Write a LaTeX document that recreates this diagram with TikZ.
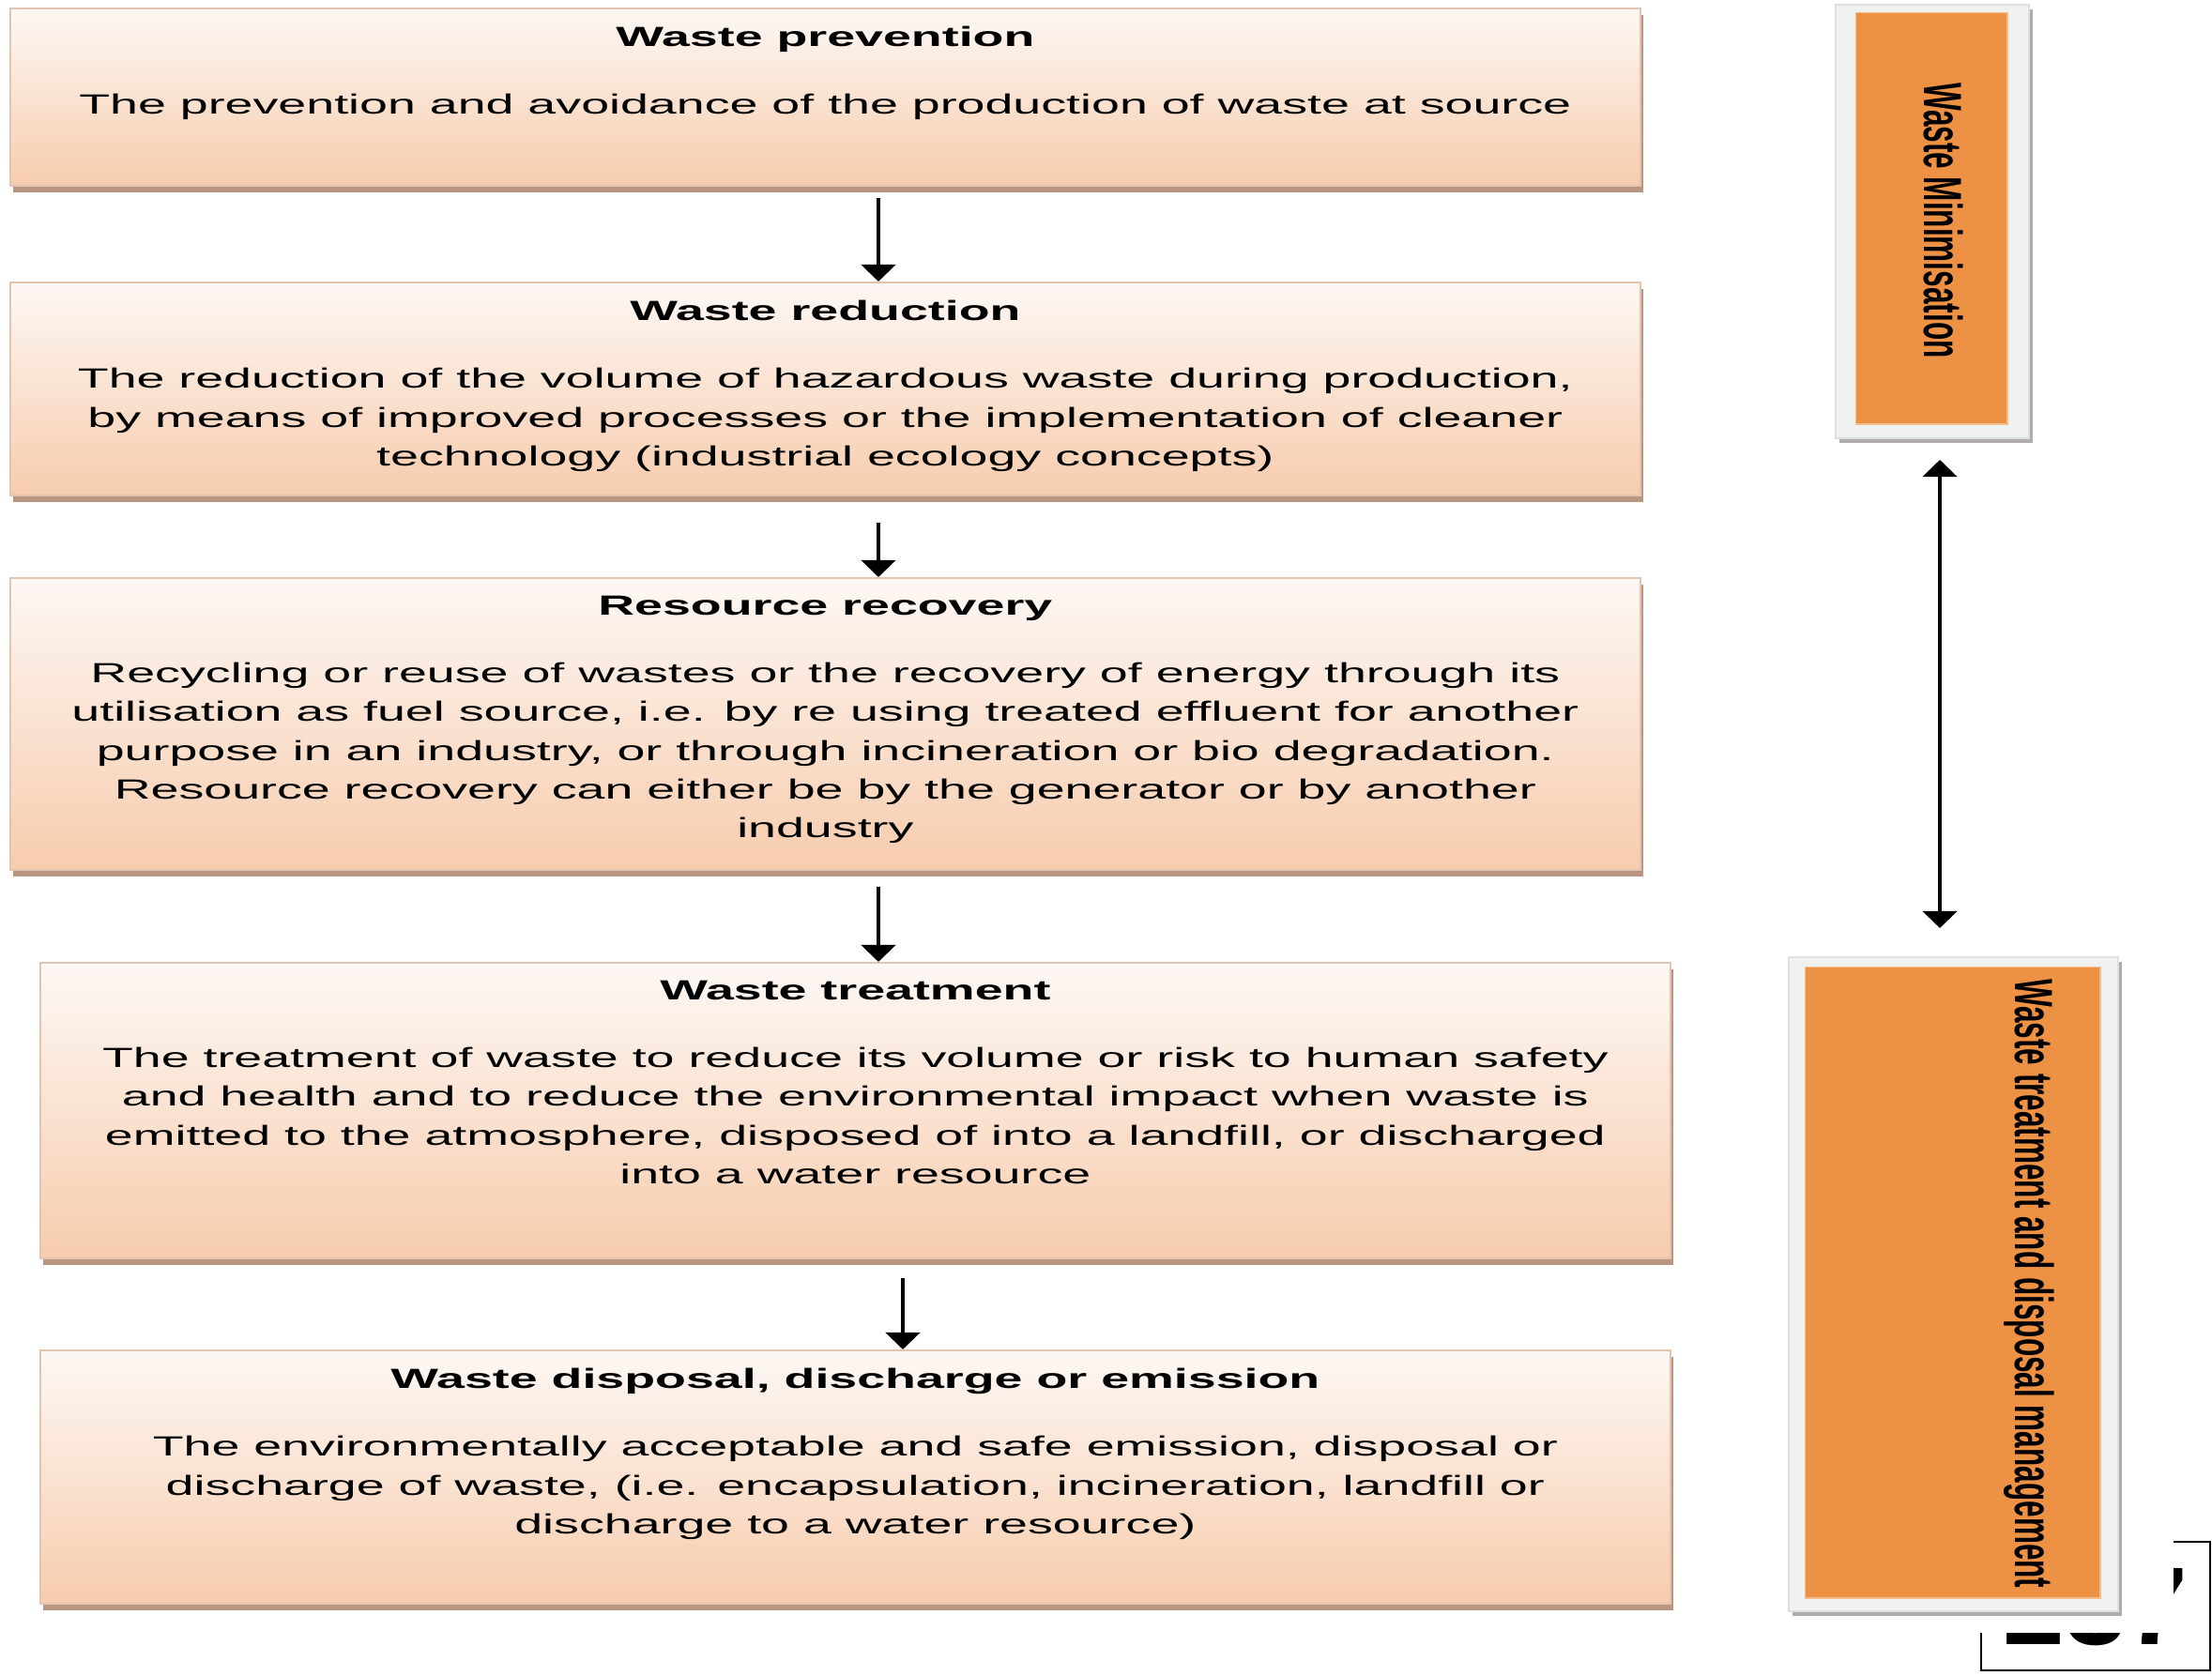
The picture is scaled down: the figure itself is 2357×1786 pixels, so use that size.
\documentclass[tikz,border=0pt]{standalone}
\usepackage{fontspec}
\setmainfont{Liberation Sans}
\newfontfamily\widefont[FakeStretch=1.82]{Liberation Sans}
\newfontfamily\tallfont[FakeStretch=0.55]{Liberation Sans}
\usetikzlibrary{arrows.meta,shadows}

\definecolor{boxtop}{RGB}{253,248,245}
\definecolor{boxbot}{RGB}{247,204,173}
\definecolor{boxline}{RGB}{226,196,176}
\definecolor{boxshade}{RGB}{186,150,128}
\definecolor{panelorange}{RGB}{237,146,69}
\definecolor{panelgrey}{RGB}{240,242,242}
\definecolor{panelline}{RGB}{222,224,224}
\definecolor{panelshade}{RGB}{175,172,170}

\tikzset{
  stagebox/.style={draw=boxline, line width=0.5pt, top color=boxtop, bottom color=boxbot,
    drop shadow={shadow xshift=0.03cm, shadow yshift=-0.07cm, fill=boxshade, opacity=1},
    anchor=north west, inner sep=0pt, minimum width=17.36cm},
  stagetext/.style={anchor=north, align=center, inner sep=0pt,
    font=\widefont\fontsize{8.4pt}{11.7pt}\selectfont},
  outerpanel/.style={draw=panelline, line width=0.5pt, fill=panelgrey,
    drop shadow={shadow xshift=0.04cm, shadow yshift=-0.05cm, fill=panelshade, opacity=1},
    anchor=north west, inner sep=0pt},
  innerpanel/.style={draw=panelorange!60!white, line width=0.4pt, fill=panelorange,
    anchor=north west, inner sep=0pt},
  sidelabel/.style={rotate=-90, anchor=base, inner sep=0pt,
    font=\tallfont\bfseries\fontsize{16.3pt}{18pt}\selectfont},
  >={Triangle[width=0.36cm,length=0.18cm]},
  flow/.style={->, line width=1.3pt}
}

\begin{document}
\begin{tikzpicture}[x=0.01cm, y=-0.01cm]
  \useasboundingbox[fill=white] (0,0) rectangle (2357,1786);

  % page number behind the figure
  \draw[line width=0.5pt] (2111,1643) rectangle (2355,1780);
  \node[anchor=base, inner sep=0pt, font=\bfseries\fontsize{33.5pt}{36pt}\selectfont] (page) at (2233,1752) {237};
  \fill[white] (0,0) rectangle (2316,1740);

  % stages
  \node[stagebox, minimum height=1.89cm] (b1) at (10,8) {};
  \node[stagebox, minimum height=2.27cm] (b2) at (10,300) {};
  \node[stagebox, minimum height=3.11cm] (b3) at (10,615) {};
  \node[stagebox, minimum height=3.15cm] (b4) at (42,1025) {};
  \node[stagebox, minimum height=2.70cm] (b5) at (42,1438) {};

  \node[stagetext] (t1) at ([yshift=-0.19cm]b1.north) {\textbf{Waste prevention}\\[9pt]
    The prevention and avoidance of the production of waste at source};
  \node[stagetext] (t2) at ([yshift=-0.19cm]b2.north) {\textbf{Waste reduction}\\[9pt]
    The reduction of the volume of hazardous waste during production,\\
    by means of improved processes or the implementation of cleaner\\
    technology (industrial ecology concepts)};
  \node[stagetext] (t3) at ([yshift=-0.19cm]b3.north) {\textbf{Resource recovery}\\[9pt]
    Recycling or reuse of wastes or the recovery of energy through its\\
    utilisation as fuel source, i.e. by re using treated effluent for another\\
    purpose in an industry, or through incineration or bio degradation.\\
    Resource recovery can either be by the generator or by another\\
    industry};
  \node[stagetext] (t4) at ([yshift=-0.19cm]b4.north) {\textbf{Waste treatment}\\[9pt]
    The treatment of waste to reduce its volume or risk to human safety\\
    and health and to reduce the environmental impact when waste is\\
    emitted to the atmosphere, disposed of into a landfill, or discharged\\
    into a water resource};
  \node[stagetext] (t5) at ([yshift=-0.19cm]b5.north) {\textbf{Waste disposal, discharge or emission}\\[9pt]
    The environmentally acceptable and safe emission, disposal or\\
    discharge of waste, (i.e. encapsulation, incineration, landfill or\\
    discharge to a water resource)};

  \coordinate (spine) at (936,0);
  \coordinate (spinelow) at (962,0);
  \draw[flow, shorten <=0.12cm] (b1.south -| spine) -- (b2.north -| spine);
  \draw[flow, shorten <=0.28cm] (b2.south -| spine) -- (b3.north -| spine);
  \draw[flow, shorten <=0.17cm] (b3.south -| spine) -- (b4.north -| spine);
  \draw[flow, shorten <=0.20cm] (b4.south -| spinelow) -- (b5.north -| spinelow);

  % side panels
  \node[outerpanel, minimum width=2.06cm, minimum height=4.62cm] (mini) at (1955,4) {};
  \node[innerpanel, minimum width=1.61cm, minimum height=4.38cm] (miniin) at (1977,13) {};
  \node[sidelabel] (lmini) at (2050,235) {Waste Minimisation};

  \node[outerpanel, minimum width=3.51cm, minimum height=6.97cm] (treat) at (1905,1019) {};
  \node[innerpanel, minimum width=3.14cm, minimum height=6.72cm] (treatin) at (1923,1030) {};
  \node[sidelabel] (ltreat) at (2147,1368) {Waste treatment and disposal management};

  \coordinate (side) at (2067,0);
  \draw[flow, <->, shorten <=0.22cm, shorten >=0.30cm] (mini.south -| side) -- (treat.north -| side);
\end{tikzpicture}
\end{document}
